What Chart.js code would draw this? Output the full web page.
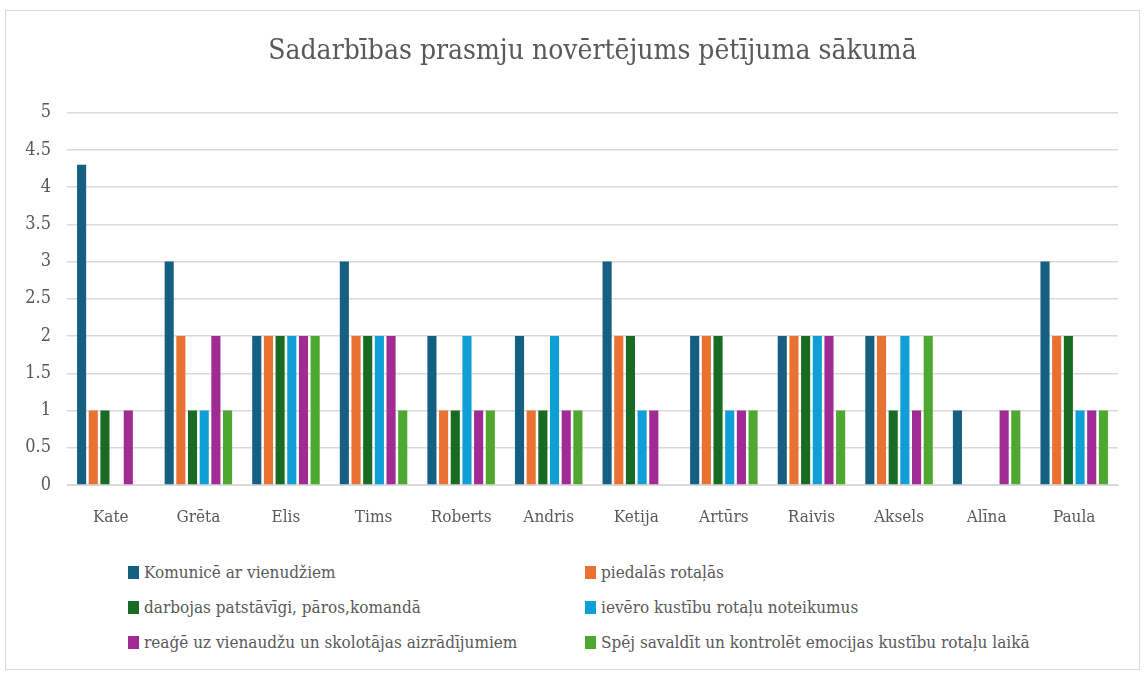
<!DOCTYPE html>
<html>
<head>
<meta charset="utf-8">
<script src="https://cdn.jsdelivr.net/npm/chart.js@4"></script>
<style>
  body { margin: 0; background: #fff; }
  #frame { position: absolute; left: 5px; top: 10px; width: 1135px; height: 660px; border: 1px solid #d9d9d9; box-sizing: border-box; }
  #wrap { position: absolute; left: 0; top: 0; width: 1147px; height: 545px; }
  #legend { position: absolute; left: 128px; top: 560px; width: 1000px; font-family: 'DejaVu Serif Condensed', 'DejaVu Serif', serif; font-size: 17px; color: #595959; }
  .item { position: absolute; white-space: nowrap; line-height: 24px; }
  .box { display: inline-block; width: 11px; height: 13px; margin-right: 5px; vertical-align: -1px; }
</style>
</head>
<body>
<div id="frame"></div>
<div id="wrap"><canvas id="chart"></canvas></div>
<div id="legend"></div>
<script>
// kategorijas (bērni)
const categories = ["Kate", "Grēta", "Elis", "Tims", "Roberts", "Andris", "Ketija", "Artūrs", "Raivis", "Aksels", "Alīna", "Paula"];

// sēriju nosaukumi un krāsas
const seriesNames = [
  "Komunicē ar vienudžiem",
  "piedalās rotaļās",
  "darbojas patstāvīgi, pāros,komandā",
  "ievēro kustību rotaļu noteikumus",
  "reaģē uz vienaudžu un skolotājas aizrādījumiem",
  "Spēj savaldīt un kontrolēt emocijas kustību rotaļu laikā"
];
const seriesColors = ["#156082", "#E97132", "#196B24", "#0F9ED5", "#A02B93", "#4EA72E"];

// vērtības
const komunice   = [4.3, 3, 2, 3, 2, 2, 3, 2, 2, 2, 1, 3];
const piedalas   = [1, 2, 2, 2, 1, 1, 2, 2, 2, 2, 0, 2];
const darbojas   = [1, 1, 2, 2, 1, 1, 2, 2, 2, 1, 0, 2];
const ievero     = [0, 1, 2, 2, 2, 2, 1, 1, 2, 2, 0, 1];
const reage      = [1, 2, 2, 2, 1, 1, 1, 1, 2, 1, 1, 1];
const savalda    = [0, 1, 2, 1, 1, 1, 0, 1, 1, 2, 1, 1];
const seriesValues = [komunice, piedalas, darbojas, ievero, reage, savalda];

const yTicks = [0, 0.5, 1, 1.5, 2, 2.5, 3, 3.5, 4, 4.5, 5];

const fontFamily = "'DejaVu Serif Condensed', 'DejaVu Serif', serif";
const textColor = "#595959";

const datasets = seriesNames.map((name, i) => ({
  label: name,
  data: seriesValues[i],
  backgroundColor: seriesColors[i],
  borderWidth: 0,
  categoryPercentage: 0.8,
  barPercentage: 0.78
}));

const ctx = document.getElementById("chart").getContext("2d");
new Chart(ctx, {
  type: "bar",
  data: { labels: categories, datasets: datasets },
  options: {
    responsive: true,
    maintainAspectRatio: false,
    animation: false,
    layout: { padding: { left: 10, right: 29, top: 0, bottom: 4 } },
    plugins: {
      legend: { display: false },
      tooltip: { enabled: false },
      title: {
        display: true,
        fullSize: false,
        text: "Sadarbības prasmju novērtējums pētījuma sākumā",
        color: textColor,
        font: { family: fontFamily, size: 28, weight: "normal" },
        padding: { top: 35, bottom: 44 }
      }
    },
    scales: {
      x: {
        grid: { display: false },
        border: { color: "#d9d9d9" },
        ticks: { color: textColor, font: { family: fontFamily, size: 17 }, padding: 14 },
        afterFit: s => { s.height = 56; }
      },
      y: {
        min: 0,
        max: 5,
        afterBuildTicks: s => { s.ticks = yTicks.map(v => ({ value: v })); },
        grid: { color: "#d9d9d9", lineWidth: 1.5, drawTicks: false },
        border: { display: false },
        ticks: { color: textColor, font: { family: fontFamily, size: 18 }, padding: 16, callback: v => String(v) },
        afterFit: s => { s.width = 57; }
      }
    }
  }
});

// leģenda divās kolonnās
const legend = document.getElementById("legend");
seriesNames.forEach((name, i) => {
  const el = document.createElement("div");
  el.className = "item";
  el.style.left = (i % 2 === 0 ? 0 : 457) + "px";
  el.style.top = (Math.floor(i / 2) * 35) + "px";
  el.innerHTML = '<span class="box" style="background:' + seriesColors[i] + '"></span>' + name;
  legend.appendChild(el);
});
</script>
</body>
</html>
